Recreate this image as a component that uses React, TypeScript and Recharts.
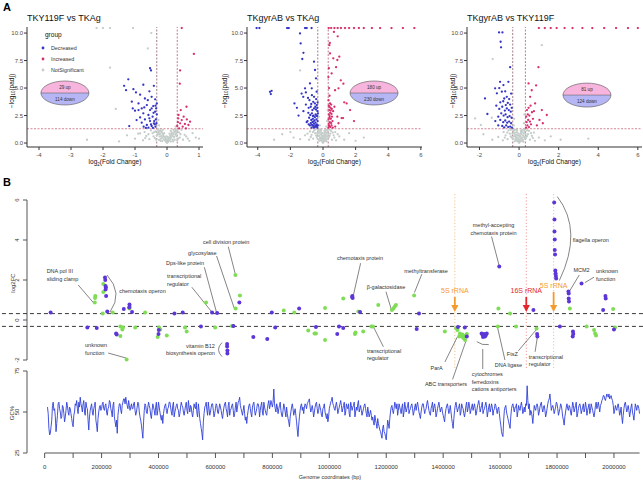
import React from 'react';
import {
  ScatterChart,
  Scatter,
  LineChart,
  Line,
  XAxis,
  YAxis,
  ReferenceLine,
  ReferenceDot,
  Legend,
} from 'recharts';

const FONT = '"Liberation Sans", Arial, Helvetica, sans-serif';

// ---------- panel A : volcano plots ----------
const GROUPS = ['Decreased', 'Increased', 'NotSignificant'];
const GROUP_COLORS = ['#3434c6', '#d8306c', '#c4cdc9'];

const TITLES = ['TKY119F vs TKAg', 'TKgyrAB vs TKAg', 'TKgyrAB vs TKY119F'];
const UP_LABELS = ['29 up', '180 up', '81 up'];
const DOWN_LABELS = ['114 down', '230 down', '124 down'];

// [log2FC, -log10(padj)]
const V1_DOWN = [
  [-0.53, 6.8], [-0.5, 6.6], [-1.21, 5.79], [-1.34, 5.2], [-1.05, 4.9], [-0.74, 5.3], [-0.41, 5.2],
  [-0.55, 4.7], [-0.97, 4.6], [-0.84, 4.4], [-0.48, 4.2], [-0.69, 4.05], [-0.37, 3.97], [-1.1, 3.76],
  [-0.89, 3.6], [-0.63, 3.45], [-0.43, 3.36], [-0.79, 3.15], [-0.53, 3.0], [-1.0, 2.94], [-0.37, 2.85],
  [-0.74, 2.7], [-0.58, 2.55], [-0.45, 2.4], [-0.84, 2.33], [-0.69, 2.15], [-0.35, 2.15], [-0.53, 2.0],
  [-0.79, 1.85], [-0.41, 1.79], [-0.63, 1.64], [-0.48, 1.55], [-0.73, 1.49], [-0.36, 1.49], [-1.18, 1.54],
  [-0.58, 1.4], [-0.95, 2.09], [-0.32, 2.6], [-0.34, 3.15], [-0.66, 1.37], [-0.44, 1.37], [-0.55, 2.25],
  [-0.6, 3.9], [-0.32, 3.6], [-0.48, 3.15], [-0.71, 3.24], [-0.89, 3.0], [-1.07, 3.15], [-1.28, 4.81],
  [-0.38, 1.7], [-0.4, 2.0], [-0.33, 1.8], [-0.42, 2.75], [-0.36, 3.4], [-0.5, 1.7],
];
const V1_UP = [
  [0.35, 2.24], [0.46, 2.09], [0.62, 2.15], [0.41, 1.79], [0.56, 1.73], [0.32, 1.55], [0.49, 1.49],
  [0.67, 1.64], [0.38, 1.33], [0.59, 1.33], [0.72, 1.94], [0.36, 2.55], [0.43, 3.0], [0.41, 6.6],
  [0.61, 3.3], [0.4, 5.4], [0.46, 10.45], [0.84, 8.1], [0.34, 1.9], [0.52, 2.4],
];
const V1_NS = [
  [0, 0.02], [0.03, 0.1], [-0.03, 0.12], [0.06, 0.2], [-0.06, 0.22], [0.1, 0.35], [-0.1, 0.33], [0.13, 0.5],
  [-0.14, 0.48], [0.17, 0.65], [-0.18, 0.62], [0.21, 0.8], [-0.22, 0.82], [0.25, 1.0], [-0.26, 0.98],
  [0.28, 1.15], [-0.29, 1.2], [0.05, 0.4], [-0.05, 0.45], [0.1, 0.7], [-0.12, 0.75], [0.15, 0.95],
  [-0.16, 1.0], [0.2, 1.2], [-0.2, 1.15], [0.0, 0.3], [0.02, 0.55], [-0.02, 0.6], [0.08, 0.85],
  [-0.09, 0.9], [0.3, 0.6], [-0.32, 0.7], [0.35, 0.4], [-0.38, 0.45], [0.42, 0.8], [-0.45, 0.9],
  [0.5, 0.3], [-0.55, 0.35], [0.6, 0.6], [-0.65, 0.65], [0.7, 0.2], [-0.75, 0.25], [0.24, 0.3],
  [-0.25, 0.28], [0.33, 1.1], [-0.36, 1.05], [0.45, 1.2], [-0.5, 1.15], [-0.9, 0.85], [-1.25, 0.7],
  [-0.7, 1.0], [0.8, 0.9], [0.9, 0.5], [-1.0, 0.4], [-0.27, 2.1], [-0.25, 1.6], [0.27, 1.5], [-0.84, 0.87],
  [-1.5, 0.15], [-2.5, 0.3], [1.0, 0.4], [-1.78, 6.85], [-1.6, 3.1], [-0.49, 10.0], [-0.6, 8.6],
  [-2.2, 10.45], [-2.0, 10.45], [-1.78, 10.45], [-1.06, 10.45], [0.12, 0.15], [-0.15, 0.18], [0.18, 0.3],
  [-0.19, 0.4], [0.22, 0.55], [-0.23, 0.6], [0.27, 0.75], [-0.28, 0.8], [0.38, 0.95], [-0.4, 1.0],
  [0.01, 0.2], [-0.01, 0.25], [0.04, 0.3], [-0.04, 0.35], [0.07, 0.5], [-0.07, 0.55], [0.11, 0.6],
  [-0.11, 0.62], [0.14, 0.8], [-0.14, 0.82], [0.18, 0.9], [-0.19, 1.05], [0.23, 1.05], [-0.24, 1.1],
  [0.26, 1.25], [-0.27, 1.28], [0.19, 0.15], [-0.2, 0.2], [0.29, 0.9], [-0.3, 0.95], [0.32, 0.25],
  [-0.34, 0.3], [0.4, 0.5], [-0.42, 0.6], [0.55, 0.75], [-0.58, 0.8], [0.65, 0.4], [-0.68, 0.45],
  [0.12, 1.1], [-0.13, 1.2],
];

const V2_DOWN = [
  [-0.35, 1.4], [-0.42, 1.5], [-0.5, 1.45], [-0.6, 1.55], [-0.7, 1.4], [-0.8, 1.6], [-0.38, 1.7],
  [-0.46, 1.85], [-0.55, 1.75], [-0.65, 1.9], [-0.75, 1.8], [-0.88, 1.7], [-0.33, 2.0], [-0.4, 2.15],
  [-0.52, 2.05], [-0.62, 2.2], [-0.72, 2.1], [-0.85, 2.3], [-0.95, 2.0], [-0.36, 2.45], [-0.45, 2.6],
  [-0.58, 2.5], [-0.68, 2.7], [-0.78, 2.55], [-0.9, 2.75], [-0.34, 2.9], [-0.43, 3.05], [-0.55, 3.15],
  [-0.65, 3.0], [-0.75, 3.3], [-0.88, 3.2], [-0.38, 3.45], [-0.5, 3.6], [-0.6, 3.75], [-0.72, 3.55],
  [-0.83, 3.9], [-0.42, 4.0], [-0.55, 4.2], [-0.68, 4.35], [-0.92, 4.1], [-1.05, 4.6], [-0.39, 4.67],
  [-0.69, 4.97], [-0.8, 5.42], [-0.43, 5.88], [-0.49, 6.64], [-0.55, 7.4], [-1.1, 4.97], [-1.21, 4.2],
  [-1.31, 4.5], [-1.27, 7.64], [-1.2, 8.2], [-1.37, 9.06], [-1.41, 9.97], [-3.25, 4.66], [-3.15, 4.75],
  [-3.2, 4.45], [-1.6, 3.2], [-1.75, 3.6], [-1.5, 2.5], [-1.2, 2.9], [-1.05, 3.5], [-1.0, 1.9],
  [-0.32, 1.6], [-0.31, 2.7], [-0.33, 3.7], [-4.07, 10.45], [-3.9, 10.45], [-2.2, 10.45], [-2.1, 10.45],
  [-1.1, 10.45], [-1.0, 10.45], [-0.7, 10.45], [-0.37, 1.55], [-0.47, 1.6], [-0.57, 1.4], [-0.67, 1.65],
  [-0.4, 2.5], [-0.5, 2.35], [-0.62, 2.45], [-0.35, 3.2], [-0.47, 3.3], [-0.6, 1.95],
];
const V2_UP = [
  [0.33, 1.4], [0.38, 1.55], [0.45, 1.45], [0.52, 1.6], [0.6, 1.4], [0.35, 1.75], [0.42, 1.9], [0.5, 1.8],
  [0.58, 2.0], [0.34, 2.15], [0.4, 2.3], [0.48, 2.2], [0.55, 2.4], [0.36, 2.6], [0.44, 2.75], [0.52, 2.65],
  [0.62, 2.9], [0.38, 3.0], [0.46, 3.2], [0.54, 3.1], [0.35, 3.4], [0.43, 3.6], [0.5, 3.5], [0.34, 3.9],
  [0.4, 4.3], [0.37, 5.0], [0.33, 6.0], [0.36, 6.8], [0.39, 8.9], [0.43, 8.15], [0.63, 7.7], [0.88, 7.55],
  [1.0, 7.85], [0.8, 6.9], [1.09, 5.7], [1.25, 5.4], [0.95, 4.97], [0.74, 4.8], [0.53, 6.33], [1.45, 3.6],
  [1.66, 3.0], [0.88, 2.4], [1.14, 2.27], [1.3, 3.7], [0.67, 10.1], [0.9, 9.7], [0.42, 9.1], [1.23, 2.27],
  [0.75, 1.5], [0.95, 1.8], [1.9, 2.0], [0.7, 3.3], [0.35, 10.45], [0.5, 10.45], [0.7, 10.45],
  [0.9, 10.45], [1.1, 10.45], [1.35, 10.45], [1.6, 10.45], [1.9, 10.45], [2.2, 10.45], [2.5, 10.45],
  [3.0, 10.45], [3.5, 10.45], [4.2, 10.45], [4.9, 10.45], [5.6, 10.45], [0.36, 1.6], [0.41, 2.45],
  [0.47, 2.95], [0.39, 3.3],
];
const V2_NS = [
  [0, 0.02], [0.04, 0.12], [-0.04, 0.1], [0.08, 0.22], [-0.08, 0.25], [0.12, 0.4], [-0.12, 0.38],
  [0.16, 0.55], [-0.17, 0.52], [0.2, 0.7], [-0.21, 0.68], [0.24, 0.88], [-0.25, 0.9], [0.28, 1.05],
  [-0.29, 1.1], [0.3, 1.25], [-0.31, 1.22], [0.06, 0.45], [-0.06, 0.5], [0.11, 0.75], [-0.12, 0.8],
  [0.16, 1.0], [-0.17, 1.05], [0.22, 1.2], [-0.22, 1.25], [0.35, 0.5], [-0.38, 0.55], [0.45, 0.85],
  [-0.48, 0.9], [0.55, 0.3], [-0.6, 0.4], [0.65, 0.7], [-0.7, 0.75], [0.8, 0.25], [-0.85, 0.3],
  [0.5, 1.1], [-0.55, 1.15], [0.75, 1.0], [-0.8, 1.05], [1.0, 0.6], [-1.1, 0.7], [1.3, 0.3],
  [-1.4, 0.35], [0.02, 0.7], [-0.02, 0.9], [0.09, 1.1], [-0.1, 1.2], [0.25, 2.0], [-0.26, 2.4],
  [0.28, 3.0], [-0.2, 1.6], [0.2, 1.5], [-1.4, 6.6], [-2.0, 1.0], [-3.0, 0.3], [2.5, 0.5], [1.6, 0.9],
  [-1.8, 0.5], [0.15, 0.2], [-0.16, 0.25], [0.3, 0.4], [-0.33, 0.35], [0.4, 0.65], [-0.42, 0.7],
  [0.6, 0.95], [-0.62, 1.0], [2.0, 0.2], [-2.5, 0.8], [0.01, 0.3], [-0.01, 0.35], [0.05, 0.6],
  [-0.05, 0.65], [0.1, 0.9], [-0.1, 0.95], [0.14, 1.15], [-0.15, 1.2], [0.18, 0.35], [-0.19, 0.4],
  [0.26, 0.6], [-0.27, 0.65], [0.33, 0.85], [-0.35, 0.9], [0.42, 1.2], [-0.45, 1.25], [0.7, 0.5],
  [-0.75, 0.55], [0.9, 0.8], [-0.95, 0.85], [0.22, 0.15], [-0.23, 0.2],
];

const V3_DOWN = [
  [-0.36, 1.4], [-0.45, 1.5], [-0.55, 1.45], [-0.65, 1.6], [-0.75, 1.42], [-0.85, 1.55], [-0.4, 1.8],
  [-0.5, 1.95], [-0.6, 1.85], [-0.7, 2.05], [-0.8, 1.9], [-0.95, 2.1], [-0.38, 2.3], [-0.48, 2.45],
  [-0.58, 2.35], [-0.68, 2.6], [-0.78, 2.5], [-0.9, 2.7], [-1.05, 2.4], [-0.42, 2.85], [-0.52, 3.0],
  [-0.62, 3.15], [-0.72, 2.95], [-0.85, 3.3], [-1.0, 3.1], [-0.45, 3.5], [-0.57, 3.65], [-0.67, 3.45],
  [-0.8, 3.8], [-0.95, 3.7], [-1.15, 3.4], [-0.5, 4.0], [-0.62, 4.2], [-0.75, 4.05], [-0.87, 4.67],
  [-1.12, 4.52], [-1.21, 4.97], [-0.79, 5.27], [-0.96, 5.57], [-0.54, 5.57], [-0.45, 6.9], [-0.91, 8.7],
  [-0.93, 9.21], [-1.01, 10.06], [-0.84, 10.06], [-1.72, 4.06], [-1.6, 2.64], [-1.05, 1.6], [-1.2, 2.0],
  [-0.37, 3.2], [-0.4, 4.5], [-1.0, 5.0], [-0.7, 4.7],
];
const V3_UP = [
  [0.35, 1.4], [0.42, 1.6], [0.5, 1.45], [0.6, 1.7], [0.38, 1.9], [0.46, 2.1], [0.55, 1.95], [0.7, 2.2],
  [0.36, 2.4], [0.44, 2.6], [0.52, 2.5], [0.65, 2.8], [0.4, 3.0], [0.48, 3.2], [0.58, 3.4], [0.81, 3.6],
  [0.56, 4.2], [0.48, 5.42], [0.64, 4.8], [0.86, 5.24], [0.98, 6.9], [1.15, 3.0], [1.03, 2.1], [1.4, 2.55],
  [0.9, 1.6], [0.75, 2.9], [1.2, 1.8], [1.0, 10.45], [1.3, 10.45], [1.6, 10.45], [1.9, 10.45],
  [2.3, 10.45], [2.7, 10.45], [3.2, 10.45], [3.7, 10.45], [4.3, 10.45], [4.9, 10.45], [5.5, 10.45],
  [6.0, 10.45],
];
const V3_NS = [
  [0, 0.02], [0.04, 0.1], [-0.04, 0.12], [0.08, 0.25], [-0.08, 0.22], [0.12, 0.38], [-0.12, 0.4],
  [0.16, 0.52], [-0.16, 0.55], [0.2, 0.7], [-0.2, 0.72], [0.24, 0.88], [-0.25, 0.9], [0.28, 1.05],
  [-0.28, 1.1], [0.3, 1.25], [-0.3, 1.2], [0.06, 0.5], [-0.06, 0.45], [0.11, 0.8], [-0.11, 0.75],
  [0.16, 1.0], [-0.17, 0.95], [0.22, 1.2], [-0.22, 1.18], [0.35, 0.45], [-0.37, 0.5], [0.45, 0.8],
  [-0.47, 0.85], [0.55, 0.3], [-0.58, 0.35], [0.65, 0.65], [-0.68, 0.7], [0.8, 0.2], [-0.82, 0.25],
  [0.5, 1.1], [-0.53, 1.15], [0.75, 0.95], [-0.78, 1.0], [1.0, 0.5], [-1.05, 0.55], [1.3, 0.25],
  [-1.35, 0.3], [0.02, 0.7], [-0.02, 0.85], [0.09, 1.1], [-0.1, 1.15], [0.25, 1.8], [-0.25, 2.2],
  [0.27, 2.6], [-0.27, 1.6], [-2.22, 2.24], [-1.38, 2.3], [-1.33, 7.63], [-1.93, 1.64], [1.15, 8.9],
  [1.6, 0.6], [2.1, 0.3], [-1.8, 0.8], [0.15, 0.18], [-0.15, 0.2], [0.3, 0.38], [-0.32, 0.4],
  [0.4, 0.62], [-0.42, 0.6], [0.6, 0.9], [-0.6, 0.95], [3.5, 0.4], [0.01, 0.28], [-0.01, 0.33],
  [0.05, 0.62], [-0.05, 0.66], [0.1, 0.92], [-0.1, 0.97], [0.14, 1.18], [-0.14, 1.22], [0.19, 0.3],
  [-0.19, 0.36], [0.26, 0.55], [-0.26, 0.6], [0.33, 0.8], [-0.34, 0.85], [0.4, 1.15], [-0.41, 1.2],
  [0.7, 0.45], [-0.72, 0.5], [0.22, 0.12], [-0.23, 0.16],
];

// ---------- panel B : log2FC along the genome ----------
// [genome position (bp), log2FC]
const PURPLE_GENES = [
  [21000, 0.38], [150000, -0.38], [183000, -0.4], [212000, 2.13], [213000, 2.0], [214000, 1.7],
  [215000, 1.62], [214000, 1.53], [216000, 1.2], [220000, 0.43], [251000, -0.67], [253000, -0.73],
  [278000, 0.55], [298000, 0.78], [297000, 0.63], [307000, 0.4], [400000, -0.7], [401000, -0.5],
  [456000, 0.33], [485000, 0.37], [549000, -0.32], [588000, 0.37], [606000, 0.35], [641000, -1.2],
  [641000, -1.33], [642000, -1.53], [642000, -1.67], [684000, 0.88], [663000, -0.3], [733000, -0.85],
  [782000, -0.95], [798000, 0.37], [810000, -0.38], [894000, 0.57], [953000, -0.35], [1028000, -0.7],
  [1034000, -0.33], [1049000, -0.4], [1081000, 1.2], [1082000, 1.1], [1080000, 1.15], [1108000, 0.4],
  [1307000, -0.45], [1315000, 0.33], [1452000, -0.35], [1476000, -0.37], [1483000, -0.83],
  [1535000, -0.67], [1538000, -0.72], [1541000, -0.78], [1544000, -0.7], [1547000, -0.83],
  [1550000, -0.75], [1553000, -0.68], [1540000, -0.85], [1597000, 2.67], [1717000, 0.5],
  [1730000, -0.7], [1731000, -0.83], [1790000, 5.87], [1791000, 5.03], [1791000, 4.42], [1792000, 4.03],
  [1792000, 3.5], [1793000, 3.28], [1794000, 2.47], [1795000, 2.33], [1796000, 2.2], [1797000, 2.08],
  [1840000, 1.42], [1841000, 1.33], [1841000, 1.08], [1842000, 0.92], [1886000, 1.82], [1970000, 1.2],
  [1971000, 1.08], [1962000, 0.5], [1810000, -0.33], [1856000, -0.58], [1857000, -0.7], [1855000, -0.83],
  [2000000, -0.47],
];
const GREEN_GENES = [
  [176000, 0.87], [177000, 1.1], [178000, 1.2], [206000, 1.8], [206000, 1.4], [204000, 0.33],
  [239000, 0.38], [266000, -0.33], [273000, -0.47], [275000, -0.37], [266000, -0.8], [298000, 0.58],
  [299000, 0.67], [318000, -0.38], [353000, 0.38], [397000, -0.85], [402000, -0.37], [406000, -0.47],
  [429000, -0.78], [493000, -0.38], [499000, -0.58], [567000, 0.87], [599000, -0.38], [658000, -0.3],
  [662000, -0.3], [670000, 2.25], [671000, 0.57], [686000, 1.22], [840000, 0.47], [877000, 0.38],
  [926000, -0.52], [948000, -0.67], [953000, -0.67], [985000, -1.0], [985000, 0.6], [288000, -1.97],
  [1049000, 1.08], [1102000, 0.42], [1090000, -0.7], [1092000, -0.62], [1119000, -0.58],
  [1148000, -0.33], [1153000, -0.33], [1172000, 0.75], [1220000, 0.5], [1225000, 0.58], [1230000, 0.67],
  [1234000, 0.75], [1298000, 1.23], [1406000, -0.58], [1445000, -0.4], [1450000, -0.5], [1459000, -0.67],
  [1462000, -0.75], [1465000, -0.83], [1468000, -0.72], [1471000, -0.9], [1474000, -0.8],
  [1477000, -1.0], [1480000, -0.78], [1483000, -0.7], [1456000, -0.83], [1594000, 0.58],
  [1592000, -0.33], [1635000, 0.33], [1656000, -0.33], [1728000, -0.42], [1845000, 0.58],
  [1904000, -0.33], [1930000, -0.5], [1934000, -0.67], [1937000, -0.78], [1997000, 0.55],
  [2004000, -0.38],
];

const RRNA_POS = [1441000, 1692000, 1788000];
const RRNA_LABELS = ['5S rRNA', '16S rRNA', '5S rRNA'];
const RRNA_COLORS = ['#f49b2e', '#e3262b', '#f49b2e'];
const RRNA_LINE_COLORS = ['#f5c08c', '#f19a9a', '#f5c08c'];

// gene labels: text lines, anchor point (bp, log2FC), alignment
const NOTES: { lines: string[]; x: number; y: number; anchor: 'start' | 'middle' | 'end' }[] = [
  { lines: ['DNA pol III', 'sliding clamp'], x: 7000, y: 2.45, anchor: 'start' },
  { lines: ['chemotaxis operon'], x: 262000, y: 1.47, anchor: 'start' },
  { lines: ['unknown', 'function'], x: 142000, y: -1.25, anchor: 'start' },
  { lines: ['transcriptional', 'regulator'], x: 430000, y: 2.2, anchor: 'start' },
  { lines: ['Dps-like protein'], x: 426000, y: 2.84, anchor: 'start' },
  { lines: ['glycosylase'], x: 504000, y: 3.37, anchor: 'start' },
  { lines: ['cell division protein'], x: 556000, y: 3.92, anchor: 'start' },
  { lines: ['vitamin B12', 'biosynthesis operon'], x: 598000, y: -1.29, anchor: 'end' },
  { lines: ['chemotaxis protein'], x: 1108000, y: 3.09, anchor: 'middle' },
  { lines: ['β-galactosidase'], x: 1199000, y: 1.64, anchor: 'middle' },
  { lines: ['methyltransferase'], x: 1340000, y: 2.47, anchor: 'middle' },
  { lines: ['transcriptional', 'regulator'], x: 1132000, y: -1.54, anchor: 'start' },
  { lines: ['ParA'], x: 1377000, y: -2.38, anchor: 'middle' },
  { lines: ['ABC transporters'], x: 1410000, y: -3.2, anchor: 'middle' },
  { lines: ['cytochromes', 'ferredoxins', 'cations antiporters'], x: 1500000, y: -2.72, anchor: 'start' },
  { lines: ['DNA ligase'], x: 1629000, y: -2.25, anchor: 'middle' },
  { lines: ['FtsZ'], x: 1643000, y: -1.7, anchor: 'middle' },
  { lines: ['transcriptional', 'regulator'], x: 1701000, y: -1.84, anchor: 'start' },
  { lines: ['methyl-accepting', 'chemotaxis protein'], x: 1577000, y: 4.75, anchor: 'middle' },
  { lines: ['flagella operon'], x: 1855000, y: 4.0, anchor: 'start' },
  { lines: ['MCM2'], x: 1886000, y: 2.5, anchor: 'middle' },
  { lines: ['unknown', 'function'], x: 1937000, y: 2.45, anchor: 'start' },
];
// leader lines [x1, y1, x2, y2]
const LEADERS = [
  [118000, 1.75, 171000, 0.87], [223000, -1.65, 286000, -1.9], [517000, 1.64, 589000, 0.37],
  [561000, 2.64, 604000, 0.37], [604000, 3.2, 666000, 0.59], [645000, 3.67, 669000, 2.34],
  [1110000, 2.84, 1084000, 1.2], [1199000, 1.42, 1219000, 0.47], [1325000, 2.29, 1299000, 1.37],
  [1155000, -0.34, 1190000, -1.34], [1450000, -0.84, 1406000, -2.1], [1480000, -1.05, 1433000, -2.97],
  [1539000, -1.45, 1539000, -2.45], [1591000, -0.37, 1617000, -2.0], [1664000, -1.54, 1728000, -0.47],
  [1723000, -1.59, 1731000, -0.84], [1570000, 4.17, 1597000, 2.7], [1878000, 2.25, 1843000, 1.42],
  [1930000, 2.14, 1898000, 1.87],
];
// curved brackets: start point + relative path
const BRACKETS: { x: number; y: number; d: string }[] = [
  { x: 219000, y: 2.25, d: 'q16.5,18 3,37' },
  { x: 623000, y: -1.13, d: 'q-7,7 0,14' },
  { x: 1518000, y: -1.08, d: 'q5,4 12,3' },
  { x: 1801000, y: 6.17, d: 'q26,34 2,84' },
];

// ---------- GC% along the genome (2.5 kb windows from 10 kb) ----------
const GC_START = 10000;
const GC_STEP = 2500;
const GC_VALUES = [
  53, 49, 40, 36, 37, 41, 45, 54, 56, 51, 52, 47, 38, 43, 48, 55, 56, 52, 50, 46,
  47, 54, 53, 49, 44, 47, 51, 56, 54, 50, 48, 53, 52, 49, 46, 43, 41, 48, 50, 55,
  54, 57, 52, 49, 56, 53, 59, 55, 53, 50, 55, 57, 50, 48, 56, 53, 52, 45, 39, 47,
  51, 53, 55, 50, 48, 52, 54, 56, 45, 42, 38, 46, 50, 53, 54, 51, 52, 55, 56, 52,
  51, 54, 55, 50, 48, 52, 53, 57, 56, 52, 50, 47, 54, 56, 47, 44, 41, 45, 37, 48,
  52, 55, 55, 51, 49, 54, 56, 58, 58, 55, 59, 56, 54, 52, 57, 54, 51, 53, 55, 52,
  52, 55, 56, 51, 48, 50, 53, 56, 55, 50, 47, 45, 42, 38, 34, 44, 51, 55, 54, 50,
  49, 53, 56, 54, 52, 48, 46, 51, 55, 53, 51, 48, 53, 56, 48, 51, 56, 53, 50, 47,
  45, 48, 43, 49, 52, 54, 55, 51, 49, 52, 53, 56, 56, 53, 50, 48, 54, 56, 47, 50,
  52, 54, 55, 52, 51, 47, 49, 53, 56, 54, 53, 50, 48, 51, 54, 56, 51, 49, 57, 53,
  50, 54, 53, 49, 47, 51, 55, 53, 52, 56, 49, 47, 55, 51, 46, 43, 40, 37, 33, 44,
  49, 53, 54, 56, 51, 48, 56, 52, 48, 50, 53, 55, 55, 51, 47, 49, 52, 55, 54, 50,
  49, 52, 55, 53, 51, 48, 46, 50, 53, 55, 56, 52, 50, 47, 54, 56, 48, 51, 52, 54,
  55, 51, 47, 49, 53, 56, 50, 53, 56, 57, 59, 54, 52, 50, 48, 51, 54, 49, 45, 47,
  43, 48, 51, 54, 55, 52, 49, 47, 53, 55, 56, 51, 48, 50, 52, 55, 55, 53, 47, 51,
  54, 56, 50, 48, 56, 53, 51, 49, 48, 52, 55, 57, 52, 54, 57, 55, 53, 56, 64, 55,
  52, 50, 55, 53, 49, 52, 54, 56, 51, 48, 47, 51, 55, 53, 50, 47, 53, 49, 46, 44,
  41, 47, 50, 53, 55, 52, 48, 50, 52, 48, 44, 39, 35, 42, 47, 51, 54, 55, 51, 53,
  49, 53, 55, 54, 52, 55, 56, 57, 58, 53, 50, 52, 54, 51, 47, 50, 53, 55, 56, 52,
  49, 51, 55, 53, 51, 48, 47, 52, 53, 55, 50, 48, 46, 49, 44, 47, 52, 54, 56, 57,
  59, 55, 54, 52, 51, 54, 56, 53, 49, 51, 53, 55, 57, 54, 50, 52, 54, 56, 48, 50,
  55, 53, 52, 55, 49, 47, 56, 54, 51, 53, 54, 56, 47, 50, 53, 51, 55, 57, 50, 52,
  54, 51, 48, 50, 52, 54, 55, 52, 49, 47, 53, 50, 47, 49, 51, 48, 45, 47, 44, 42,
  48, 45, 43, 40, 46, 43, 41, 39, 38, 36, 34, 40, 42, 38, 37, 35, 33, 39, 45, 43,
  40, 46, 50, 53, 54, 51, 49, 52, 56, 54, 52, 55, 48, 51, 55, 53, 51, 49, 53, 55,
  47, 50, 56, 53, 50, 52, 54, 56, 49, 51, 52, 54, 55, 52, 48, 50, 53, 55, 51, 54,
  56, 53, 50, 48, 46, 50, 53, 55, 55, 52, 49, 51, 52, 55, 57, 54, 51, 49, 48, 52,
  54, 56, 50, 53, 55, 52, 47, 49, 52, 54, 56, 53, 50, 52, 53, 50, 48, 46, 44, 49,
  52, 54, 55, 52, 49, 51, 54, 50, 46, 43, 40, 46, 51, 54, 56, 53, 50, 52, 53, 55,
  48, 50, 55, 53, 52, 49, 47, 50, 54, 56, 50, 52, 56, 54, 49, 51, 53, 55, 51, 53,
  55, 52, 48, 50, 53, 55, 57, 54, 50, 52, 54, 56, 49, 51, 52, 54, 56, 53, 47, 50,
  53, 55, 50, 52, 55, 53, 48, 51, 52, 55, 54, 51, 49, 52, 53, 49, 45, 42, 38, 36,
  35, 45, 51, 53, 54, 50, 48, 46, 44, 42, 40, 47, 52, 54, 55, 52, 50, 53, 53, 55,
  47, 50, 54, 52, 51, 54, 56, 53, 49, 51, 53, 50, 55, 54, 66, 57, 52, 55, 48, 51,
  50, 47, 43, 49, 54, 52, 51, 54, 55, 53, 48, 50, 53, 55, 56, 52, 50, 53, 54, 51,
  47, 49, 52, 55, 57, 58, 61, 56, 51, 53, 54, 52, 49, 51, 53, 56, 55, 52, 48, 50,
  52, 55, 54, 51, 47, 45, 42, 47, 50, 53, 55, 52, 51, 54, 53, 50, 48, 52, 56, 54,
  50, 52, 54, 56, 47, 49, 52, 54, 55, 53, 49, 51, 53, 55, 50, 52, 56, 53, 48, 51,
  53, 55, 49, 51, 55, 53, 51, 49, 47, 50, 54, 56, 52, 54, 56, 53, 50, 54, 55, 57,
  58, 60, 60, 58, 57, 59, 61, 60, 59, 61, 58, 59, 60, 58, 57, 54, 49, 51, 54, 52,
  51, 54, 55, 52, 48, 50, 53, 47, 43, 48, 52, 55, 56, 53, 50, 52, 54, 51, 47, 50,
  53, 55, 50, 48, 45, 50, 55, 53, 51, 54, 54, 52, 49,
];
const GENOME_TICKS = [
  0, 100000, 200000, 300000, 400000, 500000, 600000, 700000, 800000, 900000, 1000000, 1100000,
  1200000, 1300000, 1400000, 1500000, 1600000, 1700000, 1800000, 1900000, 2000000,
];
const GENOME_DOMAIN: [number, number] = [-62000, 2102000];

const toPts = (arr: number[][]) => arr.map(([x, y]) => ({ x, y }));
const gcData = GC_VALUES.map((gc, i) => ({ pos: GC_START + i * GC_STEP, gc }));

const dotShape = (color: string, r: number) => (p: any) =>
  <circle cx={p.cx} cy={p.cy} r={r} fill={color} />;

const RotTick = (p: any) => (
  <text
    x={p.x - 2}
    y={p.y}
    transform={`rotate(-90, ${p.x - 2}, ${p.y})`}
    textAnchor="middle"
    fontSize={6}
    fill="#333"
  >
    {p.payload.value}
  </text>
);

const GroupLegend = () => (
  <svg width={70} height={50} style={{ display: 'block', overflow: 'visible' }}>
    <text x={7} y={9} fontSize={6.5} fill="#111">group</text>
    {GROUPS.map((g, i) => (
      <g key={g}>
        <circle cx={5} cy={20 + i * 11} r={1.4} fill={GROUP_COLORS[i]} />
        <text x={13} y={22 + i * 11} fontSize={5.3} fill="#333">{g}</text>
      </g>
    ))}
  </svg>
);

const badgeShape = (up: string, down: string) => (p: any) => {
  const { cx, cy } = p;
  const rx = 24;
  const ry = 12;
  return (
    <g>
      <path d={`M${cx - rx},${cy} A${rx},${ry} 0 0 1 ${cx + rx},${cy} Z`} fill="#f7b5dd" />
      <path d={`M${cx - rx},${cy} A${rx},${ry} 0 0 0 ${cx + rx},${cy} Z`} fill="#b6b6f4" />
      <ellipse cx={cx} cy={cy} rx={rx} ry={ry} fill="none" stroke="#555" strokeWidth={0.6} />
      <line x1={cx - rx} x2={cx + rx} y1={cy} y2={cy} stroke="#555" strokeWidth={0.5} />
      <text x={cx} y={cy - 3.8} fontSize={4.6} textAnchor="middle" fill="#333">{up}</text>
      <text x={cx} y={cy + 7.6} fontSize={4.6} textAnchor="middle" fill="#333">{down}</text>
    </g>
  );
};

interface VolcanoProps {
  idx: number;
  left: number;
  width: number;
  yw: number;
  right: number;
  xDomain: [number, number];
  xTicks: number[];
  down: number[][];
  up: number[][];
  ns: number[][];
  badge: [number, number];
  yLabelX: number;
  legend?: boolean;
}

const Volcano: React.FC<VolcanoProps> = (p) => {
  const midX = p.yw + (p.width - p.yw - p.right) / 2;
  return (
    <div style={{ position: 'absolute', left: p.left, top: 0, width: p.width, height: 175 }}>
      <div
        style={{
          position: 'absolute', left: p.yw, top: 13, fontSize: 9, lineHeight: '10px',
          color: '#111', whiteSpace: 'nowrap',
        }}
      >
        {TITLES[p.idx]}
      </div>
      <ScatterChart width={p.width} height={175} margin={{ top: 27, right: p.right, bottom: 0, left: 0 }}>
        <XAxis
          type="number"
          dataKey="x"
          domain={p.xDomain}
          allowDataOverflow
          ticks={p.xTicks}
          interval={0}
          height={28}
          tickSize={3}
          tickMargin={2.5}
          stroke="#333"
          tick={{ fontSize: 6, fill: '#4d4d4d' }}
          label={() => (
            <text x={midX} y={164} textAnchor="middle" fontSize={6.5} fill="#111">
              log<tspan fontSize={4.5} dy={1.6}>2</tspan>
              <tspan dy={-1.6}>(Fold Change)</tspan>
            </text>
          )}
        />
        <YAxis
          type="number"
          dataKey="y"
          domain={[-0.36, 10.55]}
          allowDataOverflow
          ticks={[0, 2.5, 5, 7.5, 10]}
          interval={0}
          width={p.yw}
          tickSize={3}
          tickMargin={1}
          stroke="#333"
          tick={{ fontSize: 6, fill: '#4d4d4d' }}
          tickFormatter={(v: number) => v.toFixed(1)}
          label={() => (
            <text
              transform={`translate(${p.yLabelX},91) rotate(-90)`}
              textAnchor="middle"
              fontSize={6.5}
              fill="#111"
            >
              −log<tspan fontSize={4.5} dy={1.6}>10</tspan>
              <tspan dy={-1.6}>(padj)</tspan>
            </text>
          )}
        />
        <Scatter name={GROUPS[2]} data={toPts(p.ns)} fill={GROUP_COLORS[2]} shape={dotShape(GROUP_COLORS[2], 1.15)} isAnimationActive={false} />
        <Scatter name={GROUPS[0]} data={toPts(p.down)} fill={GROUP_COLORS[0]} shape={dotShape(GROUP_COLORS[0], 1.15)} isAnimationActive={false} />
        <Scatter name={GROUPS[1]} data={toPts(p.up)} fill={GROUP_COLORS[1]} shape={dotShape(GROUP_COLORS[1], 1.15)} isAnimationActive={false} />
        <ReferenceLine y={1.3} stroke="#c2506c" strokeDasharray="2 1.5" strokeWidth={0.7} />
        <ReferenceLine x={-0.32} stroke="#7a4658" strokeDasharray="2 1.5" strokeWidth={0.7} />
        <ReferenceLine x={0.32} stroke="#a8445e" strokeDasharray="2 1.5" strokeWidth={0.7} />
        <ReferenceDot
          x={p.badge[0]}
          y={p.badge[1]}
          r={0}
          ifOverflow="visible"
          shape={badgeShape(UP_LABELS[p.idx], DOWN_LABELS[p.idx])}
        />
        {p.legend && (
          <Legend
            layout="vertical"
            align="center"
            verticalAlign="middle"
            content={GroupLegend}
            wrapperStyle={{ left: 38, top: 28, width: 70, height: 50 }}
          />
        )}
      </ScatterChart>
    </div>
  );
};

const noteShape = (lines: string[], anchor: 'start' | 'middle' | 'end') => (p: any) => (
  <text x={p.cx} y={p.cy} fontSize={5.5} fill="#333" textAnchor={anchor}>
    {lines.map((l, i) => (
      <tspan key={i} x={p.cx} y={p.cy + 2 + i * 7.5}>{l}</tspan>
    ))}
  </text>
);

const bracketShape = (d: string) => (p: any) =>
  <path d={`M${p.cx},${p.cy} ${d}`} fill="none" stroke="#333" strokeWidth={0.6} />;

const rrnaShape = (label: string, color: string, lift: number) => (p: any) => (
  <g>
    <line x1={p.cx} x2={p.cx} y1={p.cy - lift + 6} y2={p.cy - 6} stroke={color} strokeWidth={1.8} />
    <polygon points={`${p.cx - 3.6},${p.cy - 7} ${p.cx + 3.6},${p.cy - 7} ${p.cx},${p.cy}`} fill={color} />
    <text x={p.cx} y={p.cy - lift + 2} fontSize={7} textAnchor="middle" fill={color}>{label}</text>
  </g>
);
const RRNA_LIFT = [21, 21, 26];

export default function App() {
  return (
    <div
      style={{
        position: 'absolute', left: 0, top: 0, width: 643, height: 480, background: '#fff',
        fontFamily: FONT, overflow: 'hidden',
      }}
    >
      <div style={{ position: 'absolute', left: 3, top: 1, fontSize: 11, fontWeight: 'bold', lineHeight: '12px' }}>A</div>
      <div style={{ position: 'absolute', left: 3, top: 176, fontSize: 11, fontWeight: 'bold', lineHeight: '12px' }}>B</div>

      <Volcano
        idx={0} left={0} width={215} yw={27} right={12} xDomain={[-4.375, 1.125]}
        xTicks={[-4, -3, -2, -1, 0, 1]} down={V1_DOWN} up={V1_UP} ns={V1_NS}
        badge={[-3.19, 4.55]} yLabelX={13.5} legend
      />
      <Volcano
        idx={1} left={215} width={215} yw={32} right={8} xDomain={[-4.66, 6.07]}
        xTicks={[-4, -2, 0, 2, 4, 6]} down={V2_DOWN} up={V2_UP} ns={V2_NS}
        badge={[3.13, 4.55]} yLabelX={11.5}
      />
      <Volcano
        idx={2} left={430} width={213} yw={37} right={1} xDomain={[-2.63, 6.21]}
        xTicks={[-2, 0, 2, 4, 6]} down={V3_DOWN} up={V3_UP} ns={V3_NS}
        badge={[3.43, 4.36]} yLabelX={24.5}
      />

      {/* log2FC along the genome */}
      <div style={{ position: 'absolute', left: 0, top: 188 }}>
        <ScatterChart width={643} height={207} margin={{ top: 5, right: 0, bottom: 27, left: 0 }}>
          <XAxis type="number" dataKey="x" domain={GENOME_DOMAIN} allowDataOverflow hide />
          <YAxis
            type="number"
            dataKey="y"
            domain={[-2.4, 6.35]}
            allowDataOverflow
            ticks={[-2, 0, 2, 4, 6]}
            interval={0}
            width={27}
            axisLine={false}
            tickSize={4}
            tickMargin={2}
            stroke="#555"
            tick={RotTick}
            label={() => (
              <text transform="translate(14.5,95) rotate(-90)" textAnchor="middle" fontSize={6} fill="#333">
                log2FC
              </text>
            )}
          />
          <ReferenceLine
            segment={[{ x: GENOME_DOMAIN[0], y: -2 }, { x: GENOME_DOMAIN[0], y: 6 }]}
            stroke="#555"
            ifOverflow="visible"
          />
          {RRNA_POS.map((x, i) => (
            <ReferenceLine key={`rl${i}`} x={x} stroke={RRNA_LINE_COLORS[i]} strokeDasharray="1.2 2" strokeWidth={1} />
          ))}
          <ReferenceLine
            segment={[{ x: -150000, y: 0.32 }, { x: 2102000, y: 0.32 }]}
            stroke="#222" strokeDasharray="4 3" strokeWidth={0.9} ifOverflow="visible"
          />
          <ReferenceLine
            segment={[{ x: -150000, y: -0.32 }, { x: 2102000, y: -0.32 }]}
            stroke="#222" strokeDasharray="4 3" strokeWidth={0.9} ifOverflow="visible"
          />
          <Scatter data={toPts(GREEN_GENES)} fill="#7fdd55" shape={dotShape('#7fdd55', 2)} isAnimationActive={false} />
          <Scatter data={toPts(PURPLE_GENES)} fill="#5c36d6" shape={dotShape('#5c36d6', 2)} isAnimationActive={false} />
          {LEADERS.map(([x1, y1, x2, y2], i) => (
            <ReferenceLine
              key={`ld${i}`}
              segment={[{ x: x1, y: y1 }, { x: x2, y: y2 }]}
              stroke="#333"
              strokeWidth={0.6}
              ifOverflow="visible"
            />
          ))}
          {BRACKETS.map((b, i) => (
            <ReferenceDot key={`br${i}`} x={b.x} y={b.y} r={0} ifOverflow="visible" shape={bracketShape(b.d)} />
          ))}
          {NOTES.map((n, i) => (
            <ReferenceDot key={`nt${i}`} x={n.x} y={n.y} r={0} ifOverflow="visible" shape={noteShape(n.lines, n.anchor)} />
          ))}
          {RRNA_POS.map((x, i) => (
            <ReferenceDot
              key={`ra${i}`}
              x={x}
              y={0.4}
              r={0}
              ifOverflow="visible"
              shape={rrnaShape(RRNA_LABELS[i], RRNA_COLORS[i], RRNA_LIFT[i])}
            />
          ))}
        </ScatterChart>
      </div>

      {/* GC% along the genome */}
      <div style={{ position: 'absolute', left: 0, top: 360 }}>
        <LineChart width={643} height={122} data={gcData} margin={{ top: 11, right: 0, bottom: 0, left: 0 }}>
          <XAxis
            type="number"
            dataKey="pos"
            domain={GENOME_DOMAIN}
            allowDataOverflow
            ticks={GENOME_TICKS}
            interval={0}
            height={29}
            axisLine={false}
            tickSize={5}
            tickMargin={7}
            stroke="#555"
            tick={{ fontSize: 6, fill: '#333' }}
            tickFormatter={(v: number) => (v % 200000 === 0 ? String(v) : '')}
            label={() => (
              <text x={330} y={119} textAnchor="middle" fontSize={5.5} fill="#333">
                Genome coordinates (bp)
              </text>
            )}
          />
          <YAxis
            type="number"
            domain={[25, 75]}
            allowDataOverflow
            ticks={[25, 50, 75]}
            interval={0}
            width={27}
            tickSize={4}
            tickMargin={2}
            stroke="#555"
            tick={RotTick}
            label={() => (
              <text transform="translate(14,53) rotate(-90)" textAnchor="middle" fontSize={6} fill="#333">
                GC%
              </text>
            )}
          />
          <ReferenceLine segment={[{ x: 0, y: 25 }, { x: 2090000, y: 25 }]} stroke="#555" ifOverflow="visible" />
          <Line type="linear" dataKey="gc" stroke="#2f3fd8" strokeWidth={0.9} dot={false} isAnimationActive={false} />
        </LineChart>
      </div>
    </div>
  );
}
